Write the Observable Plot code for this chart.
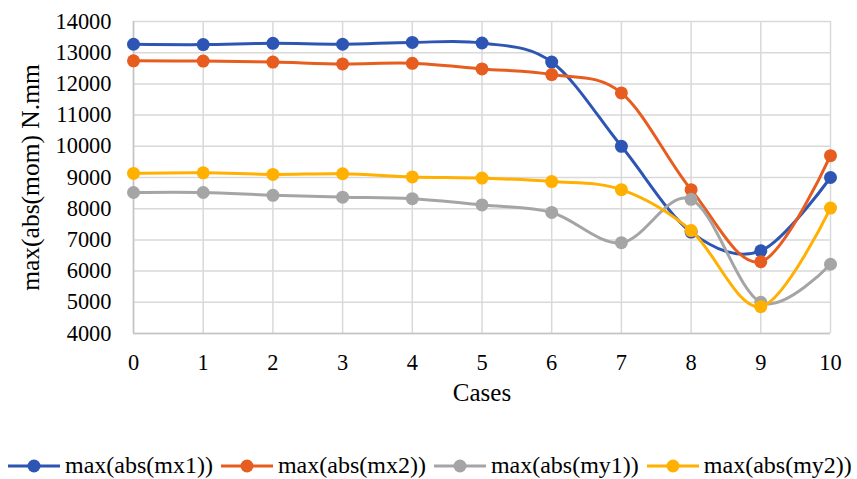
<!DOCTYPE html>
<html>
<head>
<meta charset="utf-8">
<script src="https://cdn.jsdelivr.net/npm/d3@7"></script>
<script src="https://cdn.jsdelivr.net/npm/@observablehq/plot@0.6"></script>
<style>
  html, body { margin: 0; padding: 0; background: #fff; }
  #chart { width: 857px; }
  #chart svg text { font-family: "Liberation Serif", "Times New Roman", serif; }
  .legend { display: flex; align-items: center; padding-top: 20px; padding-left: 8px; height: 27px;
    font-family: "Liberation Serif", "Times New Roman", serif; font-size: 24px; color: #000; }
  .legend .item { display: flex; align-items: center; margin-right: 8px; }
  .legend svg { margin-right: 5px; }
  .legend span { white-space: nowrap; }
</style>
</head>
<body>
<div id="chart"></div>
<script>
const cases = [0, 1, 2, 3, 4, 5, 6, 7, 8, 9, 10];
const mx1 = [13270, 13260, 13300, 13270, 13330, 13310, 12700, 10000, 7250, 6650, 9000];
const mx2 = [12740, 12730, 12700, 12640, 12660, 12480, 12300, 11710, 8610, 6300, 9700];
const my1 = [8520, 8520, 8430, 8370, 8320, 8120, 7880, 6910, 8300, 5000, 6220];
const my2 = [9130, 9150, 9100, 9120, 9020, 8980, 8870, 8610, 7300, 4860, 8020];
const seriesNames = ["max(abs(mx1))", "max(abs(mx2))", "max(abs(my1))", "max(abs(my2))"];
const seriesColors = ["#2d55b4", "#e65d1f", "#a5a5a5", "#ffb000"];
const yTicks = [4000, 5000, 6000, 7000, 8000, 9000, 10000, 11000, 12000, 13000, 14000];
const yTitle = "max(abs(mom) N.mm";
const xTitle = "Cases";

const seriesValues = [mx1, mx2, my1, my2];
const font = "'Liberation Serif', 'Times New Roman', serif";

const seriesMarks = seriesValues.flatMap((vals, i) => {
  const data = cases.map((c, j) => ({case: c, value: vals[j]}));
  return [
    Plot.line(data, {x: "case", y: "value", stroke: seriesColors[i], strokeWidth: 3, curve: "cardinal"}),
    Plot.dot(data, {x: "case", y: "value", fill: seriesColors[i], r: 6.5, stroke: "none"})
  ];
});

const chart = Plot.plot({
  width: 857,
  height: 432,
  marginLeft: 133,
  marginRight: 27,
  marginTop: 21,
  marginBottom: 99,
  style: {fontFamily: font, fontSize: "22px", color: "#000", background: "#fff"},
  x: {domain: [0, 10], ticks: cases, label: null},
  y: {domain: [4000, 14000], ticks: yTicks, label: null},
  marks: [
    Plot.gridX(cases, {stroke: "#d9d9d9", strokeOpacity: 1, strokeWidth: 1.5}),
    Plot.gridY(yTicks, {stroke: "#d9d9d9", strokeOpacity: 1, strokeWidth: 1.5}),
    Plot.ruleY([4000], {stroke: "#c4c4c4", strokeWidth: 1.5}),
    Plot.ruleX([0], {stroke: "#c4c4c4", strokeWidth: 1.5}),
    Plot.axisX(cases, {tickSize: 0, tickPadding: 21, label: null, tickFormat: d => String(d), fill: "#000", fontSize: 22.4}),
    Plot.axisY(yTicks, {tickSize: 0, tickPadding: 22, label: null, tickFormat: d => String(d), fill: "#000", fontSize: 22.4}),
    Plot.text([xTitle], {frameAnchor: "bottom", dy: 67, fontSize: 25, fill: "#000", textAnchor: "middle"}),
    Plot.text([yTitle], {frameAnchor: "left", dx: -103, rotate: -90, fontSize: 25.5, fill: "#000", textAnchor: "middle"}),
    ...seriesMarks
  ]
});

const root = document.getElementById("chart");
root.appendChild(chart);

const legend = document.createElement("div");
legend.className = "legend";
seriesNames.forEach((name, i) => {
  const item = document.createElement("div");
  item.className = "item";
  const ns = "http://www.w3.org/2000/svg";
  const s = document.createElementNS(ns, "svg");
  s.setAttribute("width", "52");
  s.setAttribute("height", "16");
  const ln = document.createElementNS(ns, "line");
  ln.setAttribute("x1", "0"); ln.setAttribute("x2", "52");
  ln.setAttribute("y1", "8"); ln.setAttribute("y2", "8");
  ln.setAttribute("stroke", seriesColors[i]); ln.setAttribute("stroke-width", "3");
  const c = document.createElementNS(ns, "circle");
  c.setAttribute("cx", "26"); c.setAttribute("cy", "8"); c.setAttribute("r", "6.5");
  c.setAttribute("fill", seriesColors[i]);
  s.appendChild(ln); s.appendChild(c);
  const t = document.createElement("span");
  t.textContent = name;
  item.appendChild(s); item.appendChild(t);
  legend.appendChild(item);
});
root.appendChild(legend);
</script>
</body>
</html>
